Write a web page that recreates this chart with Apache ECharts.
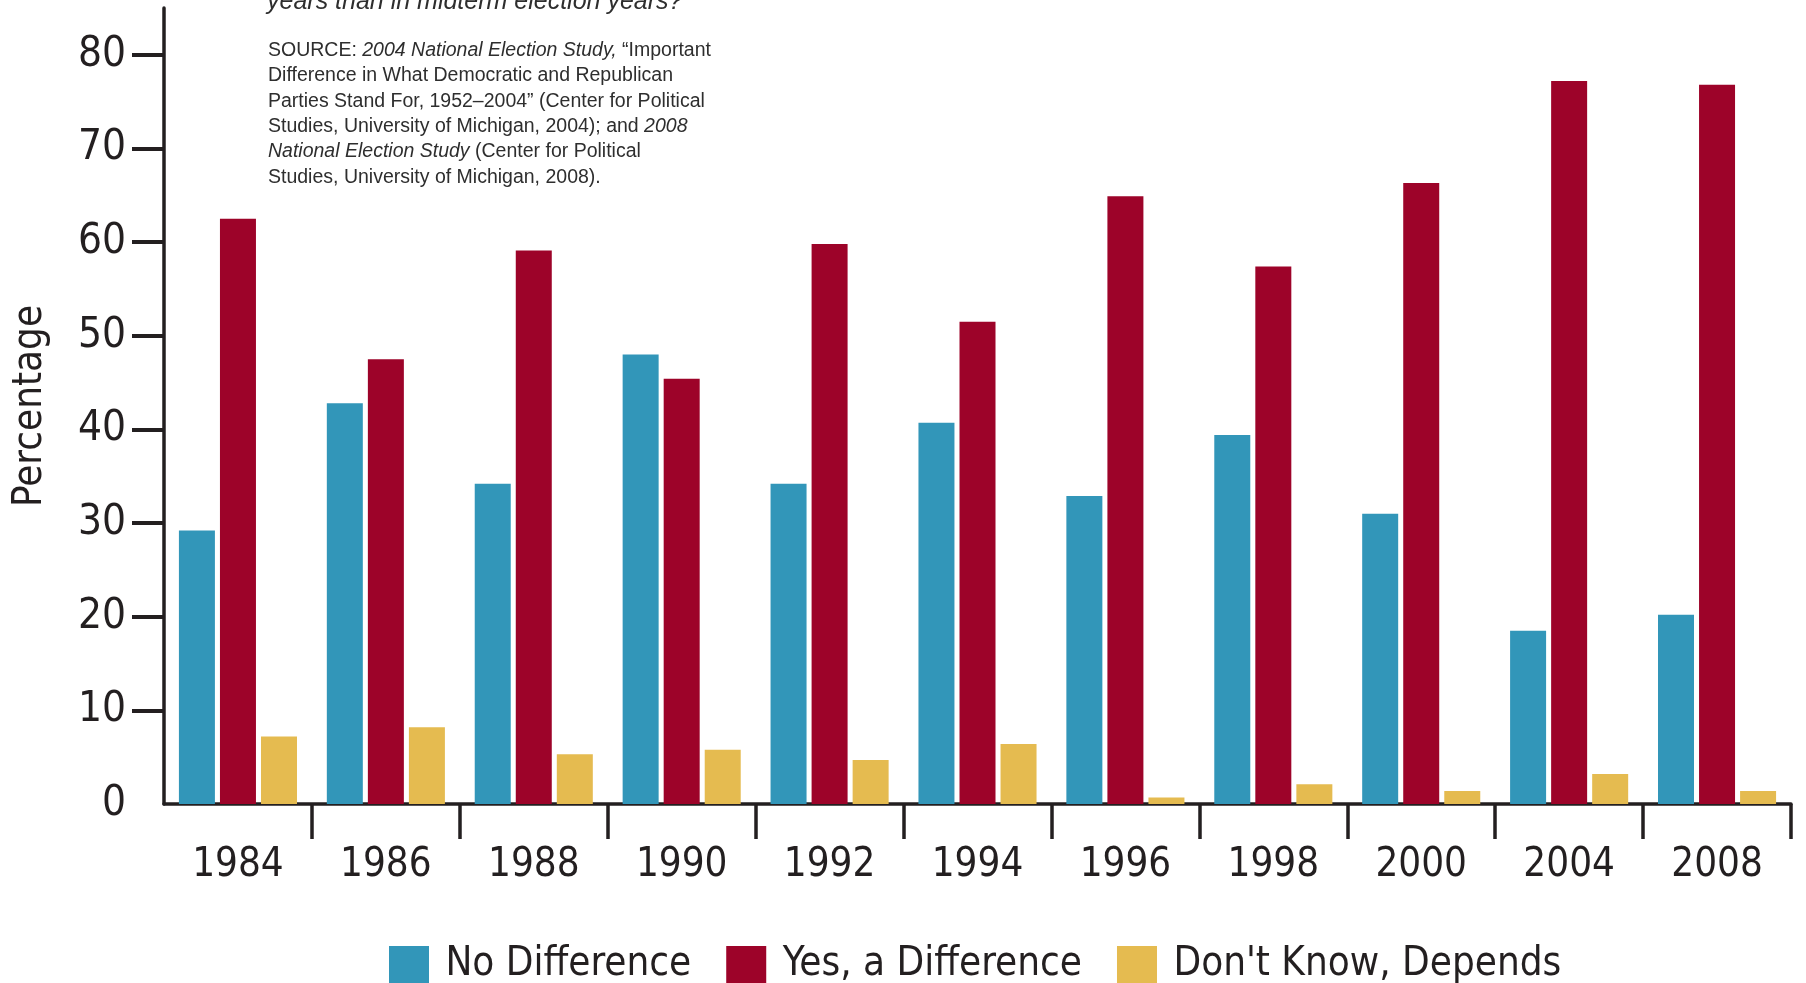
<!DOCTYPE html>
<html>
<head>
<meta charset="utf-8">
<script src="https://cdn.jsdelivr.net/npm/echarts@6/dist/echarts.min.js"></script>
<style>
html,body{margin:0;padding:0;background:#ffffff;}
#chart{width:1806px;height:983px;}
</style>
</head>
<body>
<div id="chart"></div>
<script>
// ---- data ----
const categories = ['1984','1986','1988','1990','1992','1994','1996','1998','2000','2004','2008'];
const noDifference  = [29.2, 42.8, 34.2, 48.0, 34.2, 40.7, 32.9, 39.4, 31.0, 18.5, 20.2];
const yesDifference = [62.5, 47.5, 59.1, 45.4, 59.8, 51.5, 64.9, 57.4, 66.3, 77.2, 76.8];
const dontKnow      = [7.2, 8.2, 5.3, 5.8, 4.7, 6.4, 0.7, 2.1, 1.4, 3.2, 1.4];
const seriesNames = ['No Difference', 'Yes, a Difference', "Don't Know, Depends"];
const yLabelValues = [0, 10, 20, 30, 40, 50, 60, 70, 80];
const yTickValues = [10, 20, 30, 40, 50, 60, 70, 80];
const yAxisName = 'Percentage';
const titleText = 'years than in midterm election years?';
const sourceLines = [
  [['n', 'SOURCE: '], ['i', '2004 National Election Study,'], ['n', ' \u201cImportant']],
  [['n', 'Difference in What Democratic and Republican']],
  [['n', 'Parties Stand For, 1952\u20132004\u201d (Center for Political']],
  [['n', 'Studies, University of Michigan, 2004); and '], ['i', '2008']],
  [['i', 'National Election Study'], ['n', ' (Center for Political']],
  [['n', 'Studies, University of Michigan, 2008).']]
];

// ---- style ----
const INK = '#231f20';
const COLORS = ['#3296b9', '#9d0329', '#e5bb50'];
const AXIS_FONT = '"DejaVu Sans Condensed", "DejaVu Sans", sans-serif';
const NOTE_FONT = '"Liberation Sans", Arial, Helvetica, sans-serif';
const NOTE_COLOR = '#2e2e2e';

const esc = s => s.replace(/[{}|]/g, '');
const sourceRich = sourceLines.map(line => line.map(([st, t]) => '{' + st + '|' + esc(t) + '}').join('')).join('\n');

const chart = echarts.init(document.getElementById('chart'), null, {renderer: 'canvas'});

const seriesData = [noDifference, yesDifference, dontKnow];

chart.setOption({
  animation: false,
  backgroundColor: '#ffffff',
  grid: {
    left: 164, right: 15, top: 8, bottom: 179,
    containLabel: false,
    outerBoundsMode: 'none'
  },
  legend: {
    data: seriesNames,
    left: 384,
    top: 940,
    orient: 'horizontal',
    itemWidth: 40,
    itemHeight: 38,
    itemGap: 35,
    icon: 'rect',
    formatter: name => ' ' + name,
    textStyle: { fontFamily: AXIS_FONT, fontSize: 40, color: INK },
    selectedMode: false
  },
  xAxis: {
    type: 'category',
    data: categories,
    boundaryGap: true,
    offset: 1.5,
    axisLine: { show: true, lineStyle: { color: INK, width: 3.5 } },
    axisTick: {
      show: true, inside: false, length: 35, alignWithLabel: false,
      interval: (index) => index > 0,
      lineStyle: { color: INK, width: 3.5 }
    },
    axisLabel: {
      show: true, interval: 0, margin: 40,
      fontFamily: AXIS_FONT, fontSize: 40, color: INK
    },
    splitLine: { show: false }
  },
  yAxis: {
    type: 'value',
    min: 0,
    max: 85,
    name: yAxisName,
    nameLocation: 'middle',
    nameRotate: 90,
    nameGap: 113,
    nameTextStyle: { fontFamily: AXIS_FONT, fontSize: 40, color: INK },
    axisLine: { show: true, lineStyle: { color: INK, width: 3.5 } },
    axisTick: {
      show: true, inside: false, length: 32,
      customValues: yTickValues,
      lineStyle: { color: INK, width: 4 }
    },
    axisLabel: {
      show: true, margin: 38,
      customValues: yLabelValues,
      fontFamily: AXIS_FONT, fontSize: 42, color: INK
    },
    splitLine: { show: false }
  },
  series: seriesNames.map((name, i) => ({
    name: name,
    type: 'bar',
    data: seriesData[i],
    barWidth: 36,
    barGap: '14%',
    itemStyle: { color: COLORS[i] },
    emphasis: { disabled: true }
  })),
  graphic: [
    {
      type: 'text',
      x: 267,
      y: 2,
      silent: true,
      style: {
        text: titleText,
        font: 'italic 25px ' + NOTE_FONT,
        fill: '#2e2e2e',
        verticalAlign: 'middle',
        align: 'left'
      }
    },
    {
      type: 'text',
      x: 268,
      y: 38,
      silent: true,
      style: {
        text: sourceRich,
        verticalAlign: 'top',
        align: 'left',
        fill: NOTE_COLOR,
        fontFamily: NOTE_FONT,
        fontSize: 19.5,
        lineHeight: 25.3,
        rich: {
          n: { fontFamily: NOTE_FONT, fontSize: 19.5, lineHeight: 25.3, fill: NOTE_COLOR, color: NOTE_COLOR },
          i: { fontFamily: NOTE_FONT, fontSize: 19.5, lineHeight: 25.3, fontStyle: 'italic', fill: NOTE_COLOR, color: NOTE_COLOR }
        }
      }
    }
  ]
});
</script>
</body>
</html>
